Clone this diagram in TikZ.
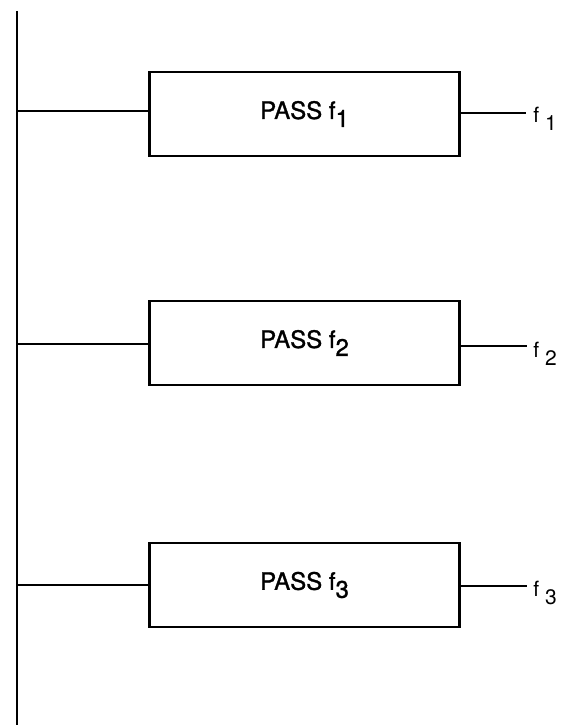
\documentclass[tikz,border=0pt]{standalone}
\usepackage{fontspec}
\setmainfont{TeX Gyre Heros}
\newfontfamily\medfont[FakeBold=1.2]{TeX Gyre Heros}
\newcommand{\lowsub}[1]{\raisebox{-8pt}{#1}}
\begin{document}
\begin{tikzpicture}[x=1pt,y=-1pt,line width=2.5pt,
  passbox/.style={draw,rectangle,minimum width=310pt,minimum height=84pt,inner sep=0pt,font=\medfont\fontsize{24}{27}\selectfont},
  outlabel/.style={anchor=base west,inner sep=0pt,font=\fontsize{21}{24}\selectfont}]
\useasboundingbox (0,0) rectangle (560,727);
\coordinate (top) at (17,11);
\coordinate (bot) at (17,725);
\draw (top) -- (bot);
% boxes
\node[passbox] (b1) at (304.5,114) {PASS f\lowsub{1}};
\node[passbox] (b2) at (304.5,343) {PASS f\lowsub{2}};
\node[passbox] (b3) at (304.5,585) {PASS f\lowsub{3}};
% junctions on the bus
\coordinate (j1) at (17,111);
\coordinate (j2) at (17,344);
\coordinate (j3) at (17,585);
\draw (j1) -- (j1 -| b1.west);
\draw (j2) -- (j2 -| b2.west);
\draw (j3) -- (j3 -| b3.west);
% outputs
\coordinate (o1) at (526,113);
\coordinate (o2) at (527,346);
\coordinate (o3) at (527,586);
\draw (o1 -| b1.east) -- (o1);
\draw (o2 -| b2.east) -- (o2);
\draw (o3 -| b3.east) -- (o3);
\node[outlabel] (l1) at (532,123) {f\hspace{6pt}\lowsub{1}};
\node[outlabel] (l2) at (532,357) {f\hspace{6pt}\lowsub{2}};
\node[outlabel] (l3) at (532,596) {f\hspace{6pt}\lowsub{3}};
\end{tikzpicture}
\end{document}
